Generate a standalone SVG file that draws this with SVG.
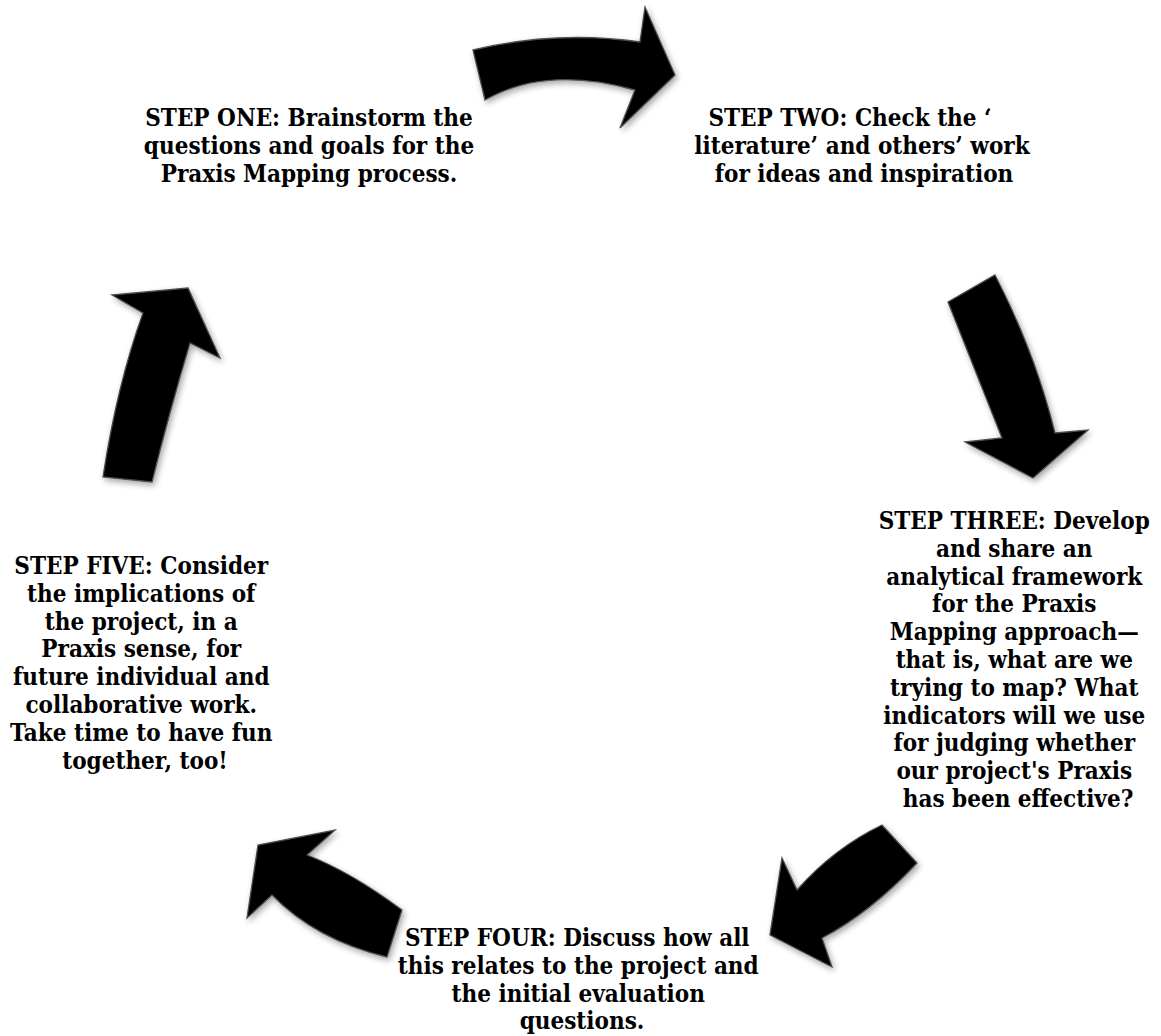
<svg xmlns="http://www.w3.org/2000/svg" width="1161" height="1036" viewBox="0 0 1161 1036">
  <defs>
    <filter id="shadow" x="-20%" y="-20%" width="140%" height="140%">
      <feGaussianBlur in="SourceAlpha" stdDeviation="3"/>
      <feOffset dx="2" dy="3" result="b"/>
      <feComponentTransfer><feFuncA type="linear" slope="0.35"/></feComponentTransfer>
      <feMerge><feMergeNode/><feMergeNode in="SourceGraphic"/></feMerge>
    </filter>
    <style>
      .lbl { font-family: "DejaVu Serif Condensed", "DejaVu Serif", serif; font-stretch: condensed; font-weight: bold; font-size: 24px; fill: #000; text-anchor: middle; }
      .arrow { fill: #000; stroke: #4d4d4d; stroke-width: 1.3; stroke-linejoin: miter; filter: url(#shadow); }
    </style>
  </defs>
  <rect width="1161" height="1036" fill="#fff"/>

  <g id="connectors">
    <path class="arrow" d="M473,50 Q557,30 640,42 L645,7 L675,75 L620,128 L635,90 Q546,65 485,100 Z"/>
    <path class="arrow" d="M995,275 Q1035,352 1055,433 L1088,430 L1033,478 L965,442 L1002,438 Q975,370 948,302 Z"/>
    <path class="arrow" d="M917,863 Q870,913 822,938 L832,967 L770,935 L782,858 L797,890 Q834,848 882,825 Z"/>
    <path class="arrow" d="M387,957 Q316,940 272,895 L247,918 L258,845 L335,830 L307,855 Q351,872 402,910 Z"/>
    <path class="arrow" d="M103,477 Q117,385 143,313 L112,295 L188,288 L220,358 L190,343 Q169,413 152,482 Z"/>
  </g>

  <g id="step-one">
    <text class="lbl"><tspan x="309" y="126">STEP ONE: Brainstorm the</tspan><tspan x="309" y="153.8">questions and goals for the</tspan><tspan x="309" y="181.6">Praxis Mapping process.</tspan></text>
  </g>
  <g id="step-two">
    <text class="lbl"><tspan x="850" y="126">STEP TWO: Check the ‘</tspan><tspan x="862" y="153.8">literature’ and others’ work</tspan><tspan x="864" y="181.6">for ideas and inspiration</tspan></text>
  </g>
  <g id="step-three">
    <text class="lbl">
      <tspan x="1018" y="529">STEP THREE: Develop</tspan>
      <tspan x="1018" y="556.8">and share an</tspan>
      <tspan x="1018" y="584.6">analytical framework</tspan>
      <tspan x="1018" y="612.4">for the Praxis</tspan>
      <tspan x="1018" y="640.2">Mapping approach—</tspan>
      <tspan x="1018" y="668">that is, what are we</tspan>
      <tspan x="1018" y="695.8">trying to map? What</tspan>
      <tspan x="1018" y="723.6">indicators will we use</tspan>
      <tspan x="1018" y="751.4">for judging whether</tspan>
      <tspan x="1018" y="779.2">our project's Praxis</tspan>
      <tspan x="1018" y="807">has been effective?</tspan>
    </text>
  </g>
  <g id="step-four">
    <text class="lbl">
      <tspan x="581" y="946">STEP FOUR: Discuss how all</tspan>
      <tspan x="582" y="973.8">this relates to the project and</tspan>
      <tspan x="582" y="1001.6">the initial evaluation</tspan>
      <tspan x="582" y="1029.4">questions.</tspan>
    </text>
  </g>
  <g id="step-five">
    <text class="lbl">
      <tspan x="145" y="574">STEP FIVE: Consider</tspan>
      <tspan x="145" y="601.8">the implications of</tspan>
      <tspan x="145" y="629.6">the project, in a</tspan>
      <tspan x="145" y="657.4">Praxis sense, for</tspan>
      <tspan x="145" y="685.2">future individual and</tspan>
      <tspan x="145" y="713">collaborative work.</tspan>
      <tspan x="145" y="740.8">Take time to have fun</tspan>
      <tspan x="145" y="768.6">together, too!</tspan>
    </text>
  </g>
</svg>
